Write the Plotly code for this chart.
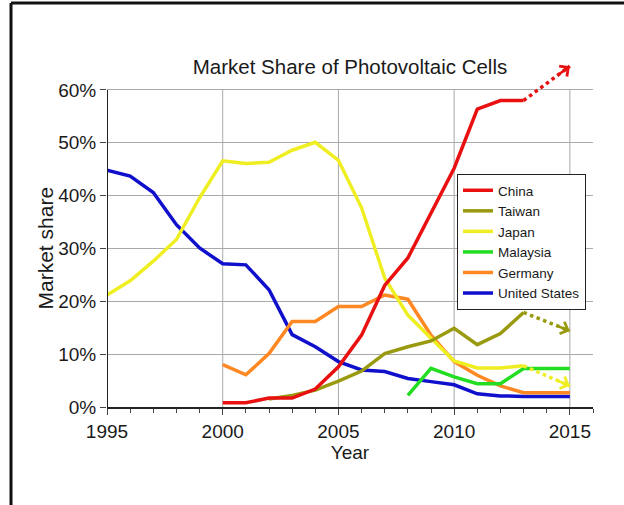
import plotly.graph_objects as go

# ---------------- data ----------------
china_years = list(range(2000, 2014))
china = [0.8, 0.8, 1.7, 1.7, 3.4, 7.6, 13.6, 23.0, 28.2, 36.8, 45.2, 56.4, 58.0, 58.0]

taiwan_years = list(range(2002, 2014))
taiwan = [1.5, 2.2, 3.2, 4.9, 6.8, 10.1, 11.4, 12.5, 14.9, 11.8, 13.9, 17.9]

japan_years = list(range(1995, 2014))
japan = [21.2, 23.9, 27.6, 31.7, 39.6, 46.6, 46.1, 46.3, 48.6, 50.1, 46.7, 37.7,
         24.4, 17.4, 13.0, 8.7, 7.4, 7.4, 7.8]

malaysia_years = list(range(2008, 2016))
malaysia = [2.2, 7.3, 5.7, 4.4, 4.4, 7.3, 7.3, 7.3]

germany_years = list(range(2000, 2016))
germany = [8.0, 6.1, 10.1, 16.2, 16.2, 19.0, 19.0, 21.2, 20.4, 13.6, 8.6, 6.0,
           4.0, 2.7, 2.7, 2.7]

us_years = list(range(1995, 2016))
us = [44.8, 43.7, 40.6, 34.5, 30.1, 27.1, 26.9, 22.2, 13.7, 11.4, 8.6, 7.0, 6.7,
      5.4, 4.8, 4.2, 2.5, 2.1, 2.0, 2.0, 2.0]

# projections (dotted arrows) from 2013 to 2015
proj_years = [2013, 2015]
china_proj = [58.0, 64.5]
taiwan_proj = [17.9, 14.4]
japan_proj = [7.8, 4.0]

x_ticks = [1995, 2000, 2005, 2010, 2015]
y_ticks = [0, 10, 20, 30, 40, 50, 60]
y_tick_labels = ["0%", "10%", "20%", "30%", "40%", "50%", "60%"]

# ---------------- style ----------------
colors = {
    "China": "#e81010",
    "Taiwan": "#9a9a10",
    "Japan": "#eeee22",
    "Malaysia": "#22dd22",
    "Germany": "#ff8822",
    "United States": "#1010cc",
}
FONT = "Liberation Sans, Arial, Helvetica, sans-serif"
W, H = 624, 505
ML, MR, MT, MB = 107, 31, 53, 98
YMAX = 67
LW = 3.5

series = {
    "China": (china_years, china),
    "Taiwan": (taiwan_years, taiwan),
    "Japan": (japan_years, japan),
    "Malaysia": (malaysia_years, malaysia),
    "Germany": (germany_years, germany),
    "United States": (us_years, us),
}
legend_order = ["China", "Taiwan", "Japan", "Malaysia", "Germany", "United States"]
draw_order = ["United States", "Germany", "Malaysia", "Japan", "Taiwan", "China"]

fig = go.Figure()

projections = {"China": china_proj, "Taiwan": taiwan_proj, "Japan": japan_proj}

for name in draw_order:
    xs, ys = series[name]
    if name in projections:
        fig.add_trace(go.Scatter(
            x=proj_years, y=projections[name], mode="lines",
            line=dict(color=colors[name], width=LW, dash="dot"),
            showlegend=False, hoverinfo="skip"))
    fig.add_trace(go.Scatter(
        x=xs, y=ys, mode="lines", name=name,
        line=dict(color=colors[name], width=LW),
        legendrank=legend_order.index(name) + 1,
        hoverinfo="skip"))

# arrow heads at the ends of the projections
for name, pv in projections.items():
    frac = 0.7
    fig.add_annotation(
        x=proj_years[1], y=pv[1], xref="x", yref="y",
        ax=proj_years[0] + frac * (proj_years[1] - proj_years[0]),
        ay=pv[0] + frac * (pv[1] - pv[0]),
        axref="x", ayref="y", text="", showarrow=True,
        arrowhead=4, arrowsize=1.0, arrowwidth=2.5, arrowcolor=colors[name])

# y axis title centred on the 0-60% span
fig.add_annotation(text="Market share", xref="paper", yref="y",
                   x=(45 - ML) / (W - ML - MR), y=(y_ticks[0] + y_ticks[-1]) / 2,
                   textangle=-90, showarrow=False, font=dict(size=21),
                   xanchor="center", yanchor="middle")

shapes = []
# vertical grid lines stopping at 60%
for xv in x_ticks[1:]:
    shapes.append(dict(type="line", xref="x", yref="y", x0=xv, x1=xv, y0=0, y1=y_ticks[-1],
                       line=dict(color="#aaaaaa", width=1), layer="below"))
# y axis line from 0 to 60%
shapes.append(dict(type="line", xref="x", yref="y", x0=x_ticks[0], x1=x_ticks[0], y0=0,
                   y1=y_ticks[-1], line=dict(color="#222222", width=2)))

# outer frame (top and left)
pw, ph = W - ML - MR, H - MT - MB
def px2paper_x(px):
    return (px - ML) / pw
def py2paper_y(py):
    return (H - MB - py) / ph
shapes.append(dict(type="line", xref="paper", yref="paper",
                   x0=px2paper_x(11), x1=px2paper_x(W + 2), y0=py2paper_y(3), y1=py2paper_y(3),
                   line=dict(color="#111111", width=3)))
shapes.append(dict(type="line", xref="paper", yref="paper",
                   x0=px2paper_x(11), x1=px2paper_x(11), y0=py2paper_y(3), y1=py2paper_y(H + 2),
                   line=dict(color="#111111", width=3)))

fig.update_layout(
    width=W, height=H,
    margin=dict(l=ML, r=MR, t=MT, b=MB),
    paper_bgcolor="white", plot_bgcolor="white",
    font=dict(family=FONT, color="#1a1a1a", size=19),
    title=dict(text="Market Share of Photovoltaic Cells", x=0.5, xref="paper",
               y=1 - 67 / H, yanchor="middle", font=dict(size=20.5)),
    shapes=shapes,
    legend=dict(x=px2paper_x(457), y=py2paper_y(174), xanchor="left", yanchor="top",
                bgcolor="white", bordercolor="#222222", borderwidth=1,
                font=dict(size=13.5), tracegroupgap=0, itemwidth=30),
    xaxis=dict(range=[1995, 2016], tickvals=x_ticks, showgrid=False,
               showline=True, linecolor="#222222", linewidth=2,
               ticks="outside", ticklen=6, tickcolor="#444444",
               minor=dict(dtick=1, ticks="outside", ticklen=4, tickcolor="#444444", showgrid=False),
               title=dict(text="Year", font=dict(size=19), standoff=4),
               zeroline=False, tickfont=dict(size=19)),
    yaxis=dict(range=[0, YMAX], tickmode="array", tickvals=y_ticks, ticktext=y_tick_labels,
               showgrid=True, gridcolor="#aaaaaa", gridwidth=1,
               showline=False, zeroline=False,
               ticks="outside", ticklen=6, tickcolor="#444444",
               tickfont=dict(size=19)),
)

fig.write_html("out.html", config={"displayModeBar": False},
               post_script="document.body.style.margin='0';")
